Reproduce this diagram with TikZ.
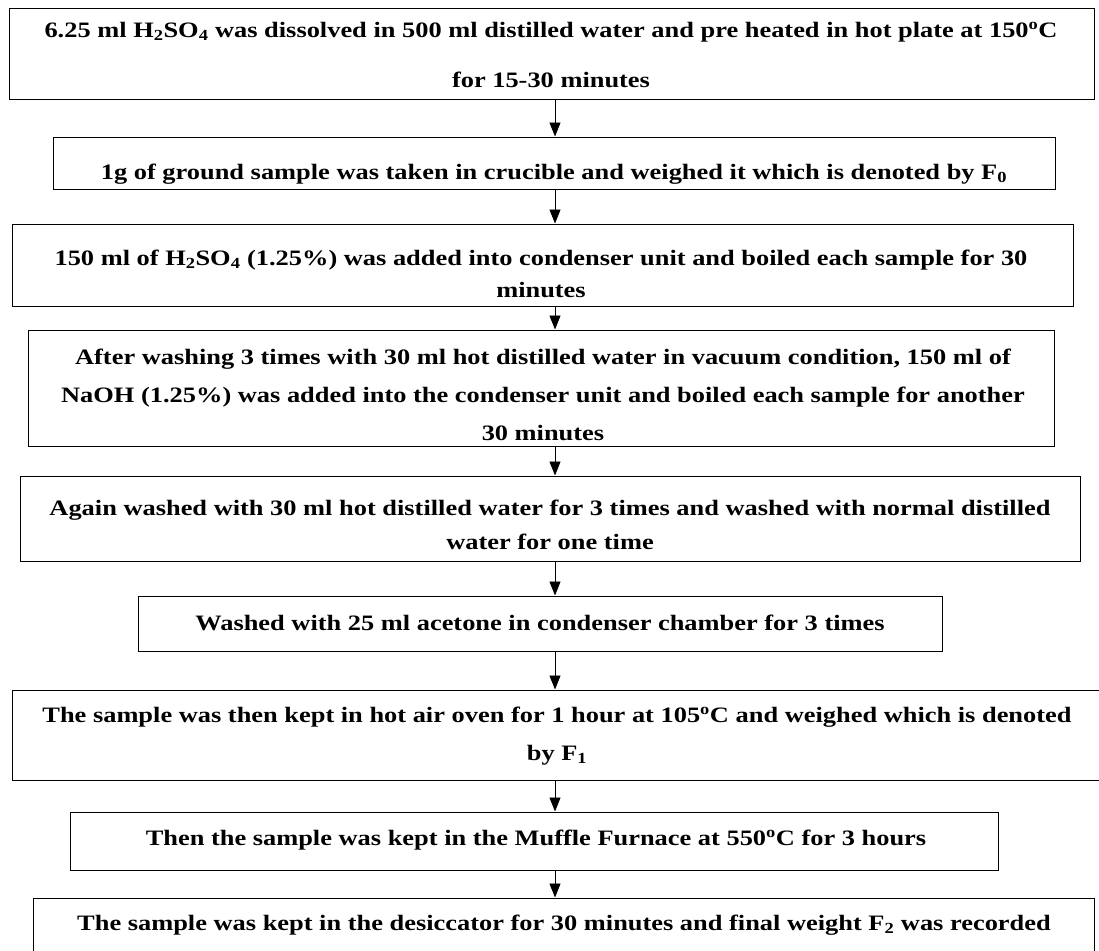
\documentclass[tikz,border=0pt]{standalone}
\usepackage{fontspec}
\setmainfont{Liberation Serif}[FakeStretch=1.2]
\usetikzlibrary{arrows.meta}
\newcommand{\flowfont}{\fontsize{22}{26}\selectfont\bfseries}
\begin{document}
\begin{tikzpicture}[x=1pt,y=-1pt,
  box/.style={draw=black, line width=1pt, inner sep=0pt, fill=none},
  txt/.style={font=\flowfont, align=center, inner sep=0pt, text=black},
  flow/.style={-{Triangle[width=11pt,length=14pt]}, line width=0.9pt, draw=black}]
\useasboundingbox (0,0) rectangle (1099,950);
\clip (0,0) rectangle (1099,950);
\fill[white] (0,0) rectangle (1099,950);
% boxes: centre = ((l+r)/2,(t+b)/2)
\node[box, minimum width=1085pt, minimum height=90pt]  (b1) at (551.5,54) {};
\node[box, minimum width=1002pt, minimum height=52pt]  (b2) at (554,163) {};
\node[box, minimum width=1061pt, minimum height=82pt]  (b3) at (542.5,265) {};
\node[box, minimum width=1026pt, minimum height=116pt] (b4) at (541,388) {};
\node[box, minimum width=1060pt, minimum height=85pt]  (b5) at (550,518.5) {};
\node[box, minimum width=804pt, minimum height=55pt]   (b6) at (540,623.5) {};
\node[box, minimum width=1098pt, minimum height=90pt]  (b7) at (561,735) {};
\node[box, minimum width=928pt, minimum height=58pt]   (b8) at (534,841) {};
\node[box, minimum width=1061pt, minimum height=72pt]  (b9) at (563.5,934) {};
% texts
\node[txt] (t1) at (551,55) {6.25 ml H\textsubscript{2}SO\textsubscript{4} was dissolved in 500 ml distilled water and pre heated in hot plate at 150\textsuperscript{o}C\\[24pt]for 15-30 minutes};
\node[txt] (t2) at (554,174) {1g of ground sample was taken in crucible and weighed it which is denoted by F\textsubscript{0}};
\node[txt] (t3) at (541,274) {150 ml of H\textsubscript{2}SO\textsubscript{4} (1.25\%) was added into condenser unit and boiled each sample for 30\\[6pt]minutes};
\node[txt] (t4) at (543,395) {After washing 3 times with 30 ml hot distilled water in vacuum condition, 150 ml of\\[12pt]NaOH (1.25\%) was added into the condenser unit and boiled each sample for another\\[12pt]30 minutes};
\node[txt] (t5) at (550,525) {Again washed with 30 ml hot distilled water for 3 times and washed with normal distilled\\[8pt]water for one time};
\node[txt] (t6) at (540,623) {Washed with 25 ml acetone in condenser chamber for 3 times};
\node[txt] (t7) at (557,736) {The sample was then kept in hot air oven for 1 hour at 105\textsuperscript{o}C and weighed which is denoted\\[12pt]by F\textsubscript{1}};
\node[txt] (t8) at (536,840) {Then the sample was kept in the Muffle Furnace at 550\textsuperscript{o}C for 3 hours};
\node[txt] (t9) at (564,925) {The sample was kept in the desiccator for 30 minutes and final weight F\textsubscript{2} was recorded};
% connectors
\coordinate (ax) at (555,0);
\draw[flow] (b1.south -| ax) -- (b2.north -| ax);
\draw[flow] (b2.south -| ax) -- (b3.north -| ax);
\draw[flow] (b3.south -| ax) -- (b4.north -| ax);
\draw[flow] (b4.south -| ax) -- (b5.north -| ax);
\draw[flow] (b5.south -| ax) -- (b6.north -| ax);
\draw[flow] (b6.south -| ax) -- (b7.north -| ax);
\draw[flow] (b7.south -| ax) -- (b8.north -| ax);
\draw[flow] (b8.south -| ax) -- (b9.north -| ax);
\end{tikzpicture}
\end{document}
